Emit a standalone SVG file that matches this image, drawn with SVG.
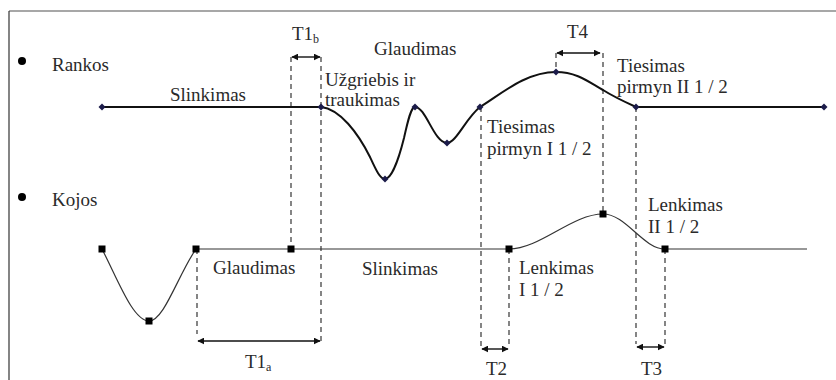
<svg xmlns="http://www.w3.org/2000/svg" xmlns:xlink="http://www.w3.org/1999/xlink" width="836" height="380" viewBox="0 0 836 380">
<style>
text{font-family:"Liberation Serif","Times New Roman",serif;font-size:19px;fill:#2a2a2a}
.sub{font-size:12px;fill:#2a2a2a}
.dash{stroke:#222;stroke-width:1.1;stroke-dasharray:5 4;fill:none}
.arr{stroke:#111;stroke-width:1.4;fill:none;marker-start:url(#ah);marker-end:url(#ah)}
.rank{stroke:#111;stroke-width:2;fill:none}
.koj{stroke:#333;stroke-width:1.2;fill:none}
</style>
<defs>
<marker id="ah" viewBox="0 0 10 10" refX="9" refY="5" markerWidth="7" markerHeight="7" markerUnits="userSpaceOnUse" orient="auto-start-reverse">
<path d="M0,0 L10,5 L0,10 z" fill="#111"/>
</marker>
<path id="dia" d="M0,-3.5 L3.5,0 L0,3.5 L-3.5,0 z" fill="#1c1c4a"/>
<rect id="sq" x="-3.5" y="-3.5" width="7" height="7" fill="#000"/>
</defs>
<rect width="836" height="380" fill="#fff"/>
<g id="frame">
<line x1="9" y1="11" x2="836" y2="11" stroke="#8a8a8a" stroke-width="1.6"/>
<line x1="9" y1="11" x2="9" y2="380" stroke="#333" stroke-width="1.2"/>
</g>
<g id="connectors">
<line class="dash" x1="291" y1="57" x2="291" y2="249"/>
<line class="dash" x1="321" y1="57" x2="321" y2="342"/>
<line class="dash" x1="197" y1="249" x2="197" y2="334"/>
<line class="dash" x1="481" y1="107" x2="481" y2="346"/>
<line class="dash" x1="509" y1="249" x2="509" y2="346"/>
<line class="dash" x1="556" y1="53" x2="556" y2="72"/>
<line class="dash" x1="603" y1="53" x2="603" y2="214"/>
<line class="dash" x1="636" y1="107" x2="636" y2="344"/>
<line class="dash" x1="665" y1="249" x2="665" y2="344"/>
<line class="arr" x1="292" y1="57" x2="320" y2="57"/>
<line class="arr" x1="557" y1="53" x2="600" y2="53"/>
<line class="arr" x1="198" y1="341" x2="320" y2="341"/>
<line class="arr" x1="482" y1="349" x2="508" y2="349"/>
<line class="arr" x1="637" y1="347" x2="664" y2="347"/>
</g>
<g id="rankos">
<circle cx="22" cy="61" r="4" fill="#000"/>
<text x="52" y="71">Rankos</text>
<path class="rank" d="M102,107 H321 C340,109 358,133 370,157 C376,170 380,179 385,179 C391,179 398,162 404,138 C408,120 411,107 415,107 C426,107 434,143 447,143 C456,143 466,118 480,107 C500,95 525,72 556,72 C578,72 590,83 603,90 C614,97 625,102 636,107 H824"/>
<use xlink:href="#dia" x="102" y="107"/>
<use xlink:href="#dia" x="321" y="107"/>
<use xlink:href="#dia" x="385" y="179"/>
<use xlink:href="#dia" x="415" y="107"/>
<use xlink:href="#dia" x="447" y="143"/>
<use xlink:href="#dia" x="480" y="107"/>
<use xlink:href="#dia" x="556" y="72"/>
<use xlink:href="#dia" x="636" y="107"/>
<use xlink:href="#dia" x="824" y="107"/>
</g>
<g id="kojos">
<circle cx="22" cy="197" r="4" fill="#000"/>
<text x="52" y="206">Kojos</text>
<path class="koj" d="M102,249 C118,280 133,321 149,321 C164,321 178,275 196,249 L509,249 C540,249 572,214 603,214 C626,214 643,249 665,249 L807,249"/>
<use xlink:href="#sq" x="102" y="249"/>
<use xlink:href="#sq" x="149" y="321"/>
<use xlink:href="#sq" x="196" y="249"/>
<use xlink:href="#sq" x="291" y="249"/>
<use xlink:href="#sq" x="509" y="249"/>
<use xlink:href="#sq" x="603" y="214"/>
<use xlink:href="#sq" x="665" y="249"/>
</g>
<g id="labels">
<text x="170" y="101">Slinkimas</text>
<text x="325" y="86">Užgriebis ir</text>
<text x="325" y="106">traukimas</text>
<text x="374" y="55">Glaudimas</text>
<text x="487" y="133">Tiesimas</text>
<text x="487" y="155">pirmyn I 1 / 2</text>
<text x="617" y="72">Tiesimas</text>
<text x="617" y="93">pirmyn II 1 / 2</text>
<text x="213" y="274">Glaudimas</text>
<text x="362" y="275">Slinkimas</text>
<text x="519" y="274">Lenkimas</text>
<text x="519" y="296">I 1 / 2</text>
<text x="648" y="211">Lenkimas</text>
<text x="648" y="233">II 1 / 2</text>
<text x="292" y="40">T1<tspan class="sub" dy="3">b</tspan></text>
<text x="567" y="38">T4</text>
<text x="245" y="368">T1<tspan class="sub" dy="3">a</tspan></text>
<text x="486" y="375">T2</text>
<text x="641" y="375">T3</text>
</g>
</svg>
